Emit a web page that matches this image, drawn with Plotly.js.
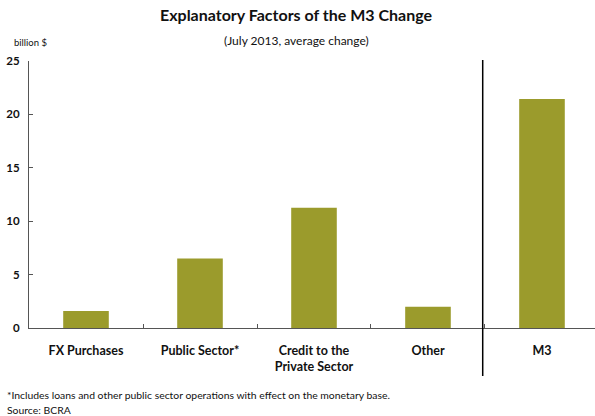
<!DOCTYPE html>
<html>
<head>
<meta charset="utf-8">
<script src="https://cdn.plot.ly/plotly-3.0.1.min.js"></script>
<style>html,body{margin:0;padding:0;background:#fff;}#chart{width:595px;height:416px;}</style>
</head>
<body>
<div id="chart"></div>
<script>
var categories = ["FX Purchases", "Public Sector*", "Credit to the<br>Private Sector", "Other", "M3"];
var values = [1.6, 6.5, 11.25, 2.0, 21.45];
var yTicks = [0, 5, 10, 15, 20, 25];

var FONT = "Lato, 'Open Sans', sans-serif";
var barColor = "#9b9b2c";

var trace = {
  type: "bar",
  x: categories,
  y: values,
  marker: {color: barColor, line: {width: 0}},
  width: 0.4,
  hoverinfo: "skip"
};

var layout = {
  width: 595,
  height: 416,
  margin: {l: 29, r: 0, t: 61, b: 88, pad: 0},
  paper_bgcolor: "#fff",
  plot_bgcolor: "#fff",
  showlegend: false,
  font: {family: FONT, color: "#111"},
  xaxis: {
    type: "category",
    range: [-0.5, 4.465],
    showline: true,
    linecolor: "#555",
    linewidth: 1,
    ticks: "inside",
    tickson: "boundaries",
    ticklen: 4,
    tickwidth: 1,
    tickcolor: "#555",
    showgrid: false,
    zeroline: false,
    tickfont: {family: FONT, size: 12.5, color: "#111", weight: "bold"},
    ticklabelstandoff: 11
  },
  yaxis: {
    range: [0, 25],
    tickvals: yTicks,
    ticktext: yTicks.map(function (v) { return "<b>" + v + "</b>"; }),
    showline: true,
    linecolor: "#555",
    linewidth: 1,
    ticks: "inside",
    ticklen: 4,
    tickwidth: 1,
    tickcolor: "#555",
    showgrid: false,
    zeroline: false,
    tickfont: {family: FONT, size: 11.5, color: "#111", weight: "bold"},
    ticklabelstandoff: 6
  },
  shapes: [{
    type: "line",
    xref: "x", yref: "paper",
    x0: 3.48, x1: 3.48,
    y0: -0.18, y1: 1.004,
    line: {color: "#000", width: 1.5}
  }],
  annotations: [
    {text: "<b>Explanatory Factors of the M3 Change</b>", xref: "paper", yref: "paper",
     x: 0.472, y: 1.0, xanchor: "center", yanchor: "bottom", showarrow: false, yshift: 35,
     font: {family: FONT, size: 16, color: "#111"}},
    {text: "(July 2013, average change)", xref: "paper", yref: "paper",
     x: 0.472, y: 1.0, xanchor: "center", yanchor: "bottom", showarrow: false, yshift: 11,
     font: {family: FONT, size: 12, color: "#111"}},
    {text: "billion $", xref: "paper", yref: "paper",
     x: -0.03, y: 1.0, xanchor: "left", yanchor: "bottom", showarrow: false, yshift: 11,
     font: {family: FONT, size: 9.5, color: "#111"}},
    {text: "*Includes loans and other public sector operations with effect on the monetary base.", xref: "paper", yref: "paper",
     x: -0.042, y: 0, xanchor: "left", yanchor: "middle", showarrow: false, yshift: -67,
     font: {family: FONT, size: 10.4, color: "#111"}},
    {text: "Source: BCRA", xref: "paper", yref: "paper",
     x: -0.042, y: 0, xanchor: "left", yanchor: "middle", showarrow: false, yshift: -82,
     font: {family: FONT, size: 10.4, color: "#111"}}
  ]
};

Plotly.newPlot("chart", [trace], layout, {displayModeBar: false, staticPlot: true});
</script>
</body>
</html>
